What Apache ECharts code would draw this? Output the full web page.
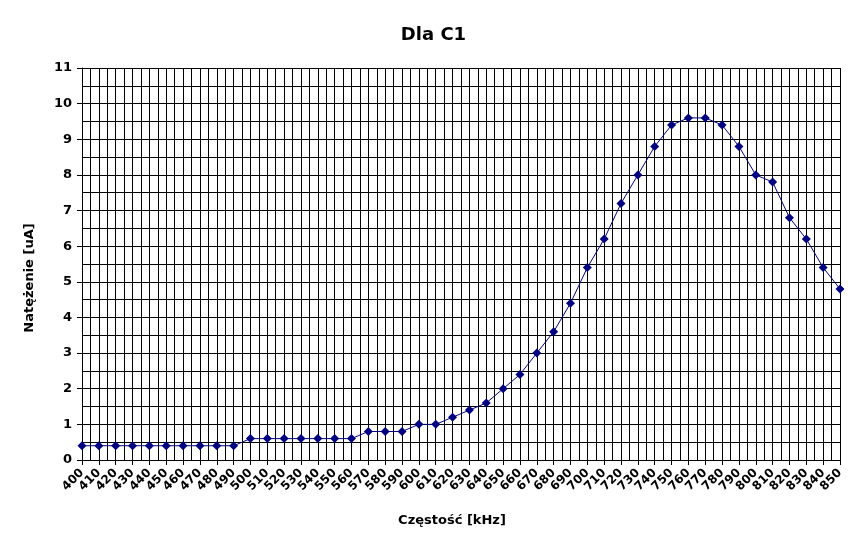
<!DOCTYPE html>
<html><head><meta charset="utf-8">
<script src="https://cdn.jsdelivr.net/npm/echarts@6/dist/echarts.min.js"></script>
<style>html,body{margin:0;padding:0;background:#fff}#c{width:867px;height:548px}</style>
</head><body><div id="c"></div>
<script>
const freqs = [400,410,420,430,440,450,460,470,480,490,500,510,520,530,540,550,560,570,580,590,600,610,620,630,640,650,660,670,680,690,700,710,720,730,740,750,760,770,780,790,800,810,820,830,840,850];
const current = [0.4,0.4,0.4,0.4,0.4,0.4,0.4,0.4,0.4,0.4,0.6,0.6,0.6,0.6,0.6,0.6,0.6,0.8,0.8,0.8,1.0,1.0,1.2,1.4,1.6,2.0,2.4,3.0,3.6,4.4,5.4,6.2,7.2,8.0,8.8,9.4,9.6,9.6,9.4,8.8,8.0,7.8,6.8,6.2,5.4,4.8];
const chart = echarts.init(document.getElementById('c'));
const font = 'DejaVu Sans';
chart.setOption({
  animation:false,
  title:{text:'Dla C1',left:'center',top:21,textStyle:{fontFamily:font,fontSize:18,fontWeight:'bold',color:'#000'}},
  grid:{left:82,right:27,top:68,bottom:88},
  xAxis:{type:'value',min:400,max:850,interval:10,
    name:'Częstość [kHz]',nameLocation:'middle',nameGap:54,
    nameTextStyle:{fontFamily:font,fontSize:13,fontWeight:'bold',color:'#000',padding:[0,18,0,0]},
    axisLine:{lineStyle:{color:'#000',width:1}},
    axisTick:{show:true,length:5,lineStyle:{color:'#000'}},
    axisLabel:{rotate:45,fontFamily:font,fontSize:12,fontWeight:'bold',color:'#000',margin:11},
    splitLine:{show:true,lineStyle:{color:'#000',width:1}},
    minorTick:{show:false,splitNumber:2},
    minorSplitLine:{show:true,lineStyle:{color:'#000',width:1}}
  },
  yAxis:{type:'value',min:0,max:11,interval:1,
    name:'Natężenie [uA]',nameLocation:'middle',nameGap:46,nameRotate:90,
    nameTextStyle:{fontFamily:font,fontSize:13,fontWeight:'bold',color:'#000',padding:[0,28,0,0]},
    axisLine:{show:true,lineStyle:{color:'#000',width:1}},
    axisTick:{show:true,length:5,lineStyle:{color:'#000'}},
    axisLabel:{fontFamily:font,fontSize:13,fontWeight:'bold',color:'#000',margin:10},
    splitLine:{show:true,lineStyle:{color:'#000',width:1}},
    minorTick:{show:false,splitNumber:2},
    minorSplitLine:{show:true,lineStyle:{color:'#000',width:1}}
  },
  series:[{type:'line',data:freqs.map((f,i)=>[f,current[i]]),
    symbol:'diamond',symbolSize:9,
    lineStyle:{color:'#000080',width:1},
    itemStyle:{color:'#000080'}}]
});
</script></body></html>
